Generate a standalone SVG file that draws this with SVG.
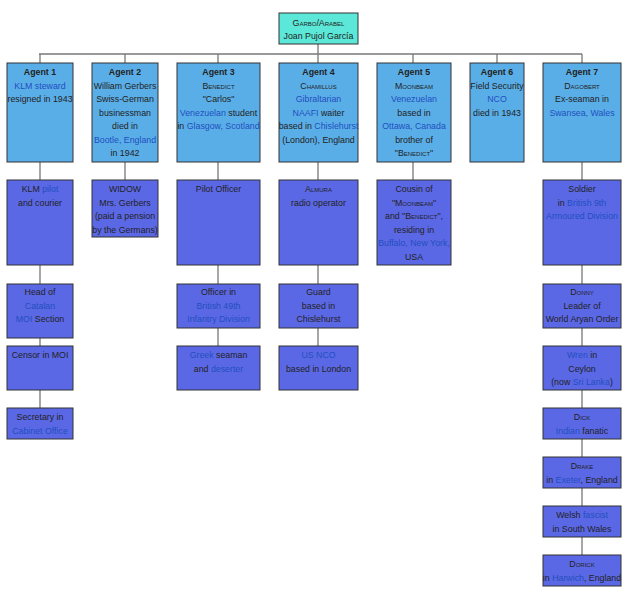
<svg xmlns="http://www.w3.org/2000/svg" width="640" height="593" viewBox="0 0 640 593">
<style>
text{font-family:"Liberation Sans",Arial,sans-serif;font-size:8.8px;fill:#222;text-anchor:middle}
.b{font-weight:bold}
.l{fill:#1f4fbf}
.sc{font-variant:small-caps}
.top{fill:#5ce8d8;stroke:#333;stroke-width:1}
.ag{fill:#5aaee8;stroke:#333;stroke-width:1}
.sb{fill:#5b68e6;stroke:#333;stroke-width:1}
.c line{stroke:#777;stroke-width:1.3}
</style>
<rect width="640" height="593" fill="#fff"/>
<g class="c">
<line x1="318" y1="44" x2="318" y2="63"/>
<line x1="39" y1="54" x2="582" y2="54"/>
<line x1="40" y1="54" x2="40" y2="63"/><line x1="125" y1="54" x2="125" y2="63"/><line x1="218" y1="54" x2="218" y2="63"/>
<line x1="413" y1="54" x2="413" y2="63"/><line x1="497" y1="54" x2="497" y2="63"/><line x1="582" y1="54" x2="582" y2="63"/>
<line x1="40" y1="162" x2="40" y2="408"/>
<line x1="125" y1="162" x2="125" y2="180"/>
<line x1="218" y1="162" x2="218" y2="346"/>
<line x1="318" y1="162" x2="318" y2="346"/>
<line x1="413" y1="162" x2="413" y2="180"/>
<line x1="582" y1="162" x2="582" y2="555"/>
</g>
<g id="garbo"><rect class="top" x="279" y="13" width="79" height="31"/>
<text x="318.5" y="26" class="sc">Garbo/Arabel</text><text x="318.5" y="39">Joan Pujol García</text></g>

<g id="agent1"><rect class="ag" x="7" y="63" width="66" height="99"/>
<text x="40" y="75" class="b">Agent 1</text><text x="40" y="89" class="l">KLM steward</text><text x="40" y="102">resigned in 1943</text></g>
<g id="agent2"><rect class="ag" x="92" y="63" width="66" height="99"/>
<text x="125" y="75" class="b">Agent 2</text><text x="125" y="89">William Gerbers</text><text x="125" y="102">Swiss-German</text><text x="125" y="116">businessman</text><text x="125" y="129">died in</text><text x="125" y="143" class="l">Bootle, England</text><text x="125" y="156">in 1942</text></g>
<g id="agent3"><rect class="ag" x="177" y="63" width="83" height="99"/>
<text x="218.5" y="75" class="b">Agent 3</text><text x="218.5" y="89" class="sc">Benedict</text><text x="218.5" y="102">"Carlos"</text><text x="218.5" y="116"><tspan class="l">Venezuelan</tspan> student</text><text x="218.5" y="129">in <tspan class="l">Glasgow, Scotland</tspan></text></g>
<g id="agent4"><rect class="ag" x="279" y="63" width="79" height="99"/>
<text x="318.5" y="75" class="b">Agent 4</text><text x="318.5" y="89" class="sc">Chamillus</text><text x="318.5" y="102" class="l">Gibraltarian</text><text x="318.5" y="116"><tspan class="l">NAAFI</tspan> waiter</text><text x="318.5" y="129">based in <tspan class="l">Chislehurst</tspan></text><text x="318.5" y="143">(London), England</text></g>
<g id="agent5"><rect class="ag" x="377" y="63" width="74" height="99"/>
<text x="414" y="75" class="b">Agent 5</text><text x="414" y="89" class="sc">Moonbeam</text><text x="414" y="102" class="l">Venezuelan</text><text x="414" y="116">based in</text><text x="414" y="129" class="l">Ottawa, Canada</text><text x="414" y="143">brother of</text><text x="414" y="156">"<tspan class="sc">Benedict</tspan>"</text></g>
<g id="agent6"><rect class="ag" x="470" y="63" width="54" height="99"/>
<text x="497" y="75" class="b">Agent 6</text><text x="497" y="89">Field Security</text><text x="497" y="102" class="l">NCO</text><text x="497" y="116">died in 1943</text></g>
<g id="agent7"><rect class="ag" x="543" y="63" width="78" height="99"/>
<text x="582" y="75" class="b">Agent 7</text><text x="582" y="89" class="sc">Dagobert</text><text x="582" y="102">Ex-seaman in</text><text x="582" y="116" class="l">Swansea, Wales</text></g>

<g id="klmpilot"><rect class="sb" x="7" y="180" width="66" height="85"/><text x="40" y="192">KLM <tspan class="l">pilot</tspan></text><text x="40" y="206">and courier</text></g>
<g id="catalan"><rect class="sb" x="7" y="284" width="66" height="54"/><text x="40" y="295">Head of</text><text x="40" y="309" class="l">Catalan</text><text x="40" y="322"><tspan class="l">MOI</tspan> Section</text></g>
<g id="censor"><rect class="sb" x="7" y="346" width="66" height="44"/><text x="40" y="358">Censor in MOI</text></g>
<g id="secretary"><rect class="sb" x="7" y="408" width="66" height="31"/><text x="40" y="420">Secretary in</text><text x="40" y="434" class="l">Cabinet Office</text></g>

<g id="widow"><rect class="sb" x="92" y="180" width="66" height="57"/><text x="125" y="192">WIDOW</text><text x="125" y="206">Mrs. Gerbers</text><text x="125" y="219">(paid a pension</text><text x="125" y="233">by the Germans)</text></g>

<g id="pilotofficer"><rect class="sb" x="177" y="180" width="83" height="85"/><text x="218.5" y="192">Pilot Officer</text></g>
<g id="officer49"><rect class="sb" x="177" y="284" width="83" height="44"/><text x="218.5" y="295">Officer in</text><text x="218.5" y="309" class="l">British 49th</text><text x="218.5" y="322" class="l">Infantry Division</text></g>
<g id="greek"><rect class="sb" x="177" y="346" width="83" height="44"/><text x="218.5" y="358"><tspan class="l">Greek</tspan> seaman</text><text x="218.5" y="372">and <tspan class="l">deserter</tspan></text></g>

<g id="almura"><rect class="sb" x="279" y="180" width="79" height="85"/><text x="318.5" y="192" class="sc">Almura</text><text x="318.5" y="206">radio operator</text></g>
<g id="guard"><rect class="sb" x="279" y="284" width="79" height="44"/><text x="318.5" y="295">Guard</text><text x="318.5" y="309">based in</text><text x="318.5" y="322">Chislehurst</text></g>
<g id="usnco"><rect class="sb" x="279" y="346" width="79" height="44"/><text x="318.5" y="358" class="l">US NCO</text><text x="318.5" y="372">based in London</text></g>

<g id="cousin"><rect class="sb" x="377" y="180" width="74" height="85"/><text x="414" y="192">Cousin of</text><text x="414" y="206">"<tspan class="sc">Moonbeam</tspan>"</text><text x="414" y="219">and "<tspan class="sc">Benedict</tspan>",</text><text x="414" y="233">residing in</text><text x="414" y="246" class="l">Buffalo, New York,</text><text x="414" y="260">USA</text></g>

<g id="soldier"><rect class="sb" x="543" y="180" width="78" height="85"/><text x="582" y="192">Soldier</text><text x="582" y="206">in <tspan class="l">British 9th</tspan></text><text x="582" y="219" class="l">Armoured Division</text></g>
<g id="donny"><rect class="sb" x="543" y="284" width="78" height="44"/><text x="582" y="295" class="sc">Donny</text><text x="582" y="309">Leader of</text><text x="582" y="322">World Aryan Order</text></g>
<g id="wren"><rect class="sb" x="543" y="346" width="78" height="44"/><text x="582" y="358"><tspan class="l">Wren</tspan> in</text><text x="582" y="372">Ceylon</text><text x="582" y="385">(now <tspan class="l">Sri Lanka</tspan>)</text></g>
<g id="dick"><rect class="sb" x="543" y="408" width="78" height="31"/><text x="582" y="420" class="sc">Dick</text><text x="582" y="434"><tspan class="l">Indian</tspan> fanatic</text></g>
<g id="drake"><rect class="sb" x="543" y="457" width="78" height="31"/><text x="582" y="469" class="sc">Drake</text><text x="582" y="483">in <tspan class="l">Exeter</tspan>, England</text></g>
<g id="welsh"><rect class="sb" x="543" y="506" width="78" height="31"/><text x="582" y="518">Welsh <tspan class="l">fascist</tspan></text><text x="582" y="532">in South Wales</text></g>
<g id="dorick"><rect class="sb" x="543" y="555" width="78" height="31"/><text x="582" y="567" class="sc">Dorick</text><text x="582" y="581">in <tspan class="l">Harwich</tspan>, England</text></g>
</svg>
